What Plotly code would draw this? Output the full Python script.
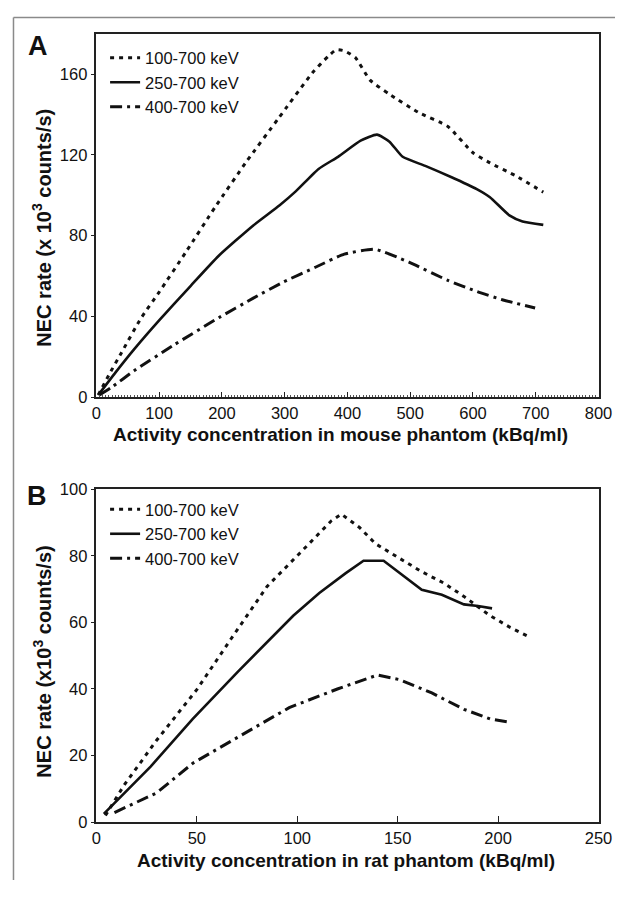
import plotly.graph_objects as go

# window size and default page margin of the HTML body
WIN_W, WIN_H = 637, 897
OFF = 8
W, H = WIN_W - 2 * OFF, WIN_H - 2 * OFF

# ---------------- Data ----------------
series_names = ["100-700 keV", "250-700 keV", "400-700 keV"]

# Panel A (mouse phantom)
a_x_100 = [3, 20, 40, 71, 100, 143, 189, 240, 290, 344, 370, 382, 395, 413, 436, 467, 513, 560, 600, 627, 668, 712]
a_y_100 = [1, 11, 22, 39, 52, 72, 94, 117, 138, 160.5, 169, 172, 171.5, 168, 157, 150, 141, 134, 121, 116, 109.6, 101.5]

a_x_250 = [3, 30, 61, 100, 150, 195, 250, 292, 318, 354, 385, 421, 447, 467, 488, 524, 565, 606, 627, 658, 679, 712]
a_y_250 = [1, 12, 24, 38, 55, 70, 85, 95, 102, 113, 119, 127, 130, 126.5, 119, 114.5, 109, 103, 99, 90, 87, 85.3]

a_x_400 = [5, 25, 60, 122, 195, 250, 298, 349, 395, 444, 498, 560, 607, 648, 699]
a_y_400 = [1, 5, 13, 25.5, 39.3, 49, 57, 64.3, 70.8, 73.2, 66.8, 57.8, 52.2, 48.1, 44.1]

# Panel B (rat phantom)
b_x_100 = [4.5, 14, 30, 50, 67, 85, 101, 117, 122, 131, 139, 148.5, 162, 173, 183, 196, 206, 216]
b_y_100 = [2, 11.3, 24.6, 39.8, 55, 70.8, 80.6, 90.5, 92.5, 88.5, 83.6, 80.1, 75.2, 71.8, 67.8, 62, 58.5, 55.5]

b_x_250 = [3.7, 27, 48, 70.5, 98, 111, 124, 133, 143, 162, 172, 183, 190, 197]
b_y_250 = [2.5, 16.7, 31, 45.2, 62, 68.8, 74.7, 78.5, 78.5, 69.8, 68.3, 65.4, 64.9, 64.2]

b_x_400 = [9, 30, 48, 70.5, 96, 120, 140, 151, 167, 183, 196, 206]
b_y_400 = [2.9, 8.8, 17.7, 25.6, 34.4, 40, 44.2, 42.8, 38.8, 33.9, 31, 30]

a_xticks = [0, 100, 200, 300, 400, 500, 600, 700, 800]
a_yticks = [0, 40, 80, 120, 160]
b_xticks = [0, 50, 100, 150, 200, 250]
b_yticks = [0, 20, 40, 60, 80, 100]

# ---------------- Styles ----------------
FONT = "Arial, Liberation Sans, Helvetica, sans-serif"
dashes = ["4px,5px", "solid", "12px,5px,3px,5px"]
widths = [3, 2.6, 3]


def px_x(p):
    return (p - OFF) / W


def px_y(p):
    return 1 - (p - OFF) / H


fig = go.Figure()

panelA = [(a_x_100, a_y_100), (a_x_250, a_y_250), (a_x_400, a_y_400)]
panelB = [(b_x_100, b_y_100), (b_x_250, b_y_250), (b_x_400, b_y_400)]

for i, (xs, ys) in enumerate(panelA):
    fig.add_trace(go.Scatter(
        x=xs, y=ys, mode="lines", name=series_names[i],
        line=dict(color="#111111", width=widths[i], dash=dashes[i], shape="spline", smoothing=0.5),
        xaxis="x", yaxis="y", legend="legend",
    ))
for i, (xs, ys) in enumerate(panelB):
    fig.add_trace(go.Scatter(
        x=xs, y=ys, mode="lines", name=series_names[i],
        line=dict(color="#111111", width=widths[i], dash=dashes[i]),
        xaxis="x2", yaxis="y2", legend="legend2",
    ))

axis_common = dict(
    showline=True, linecolor="#222222", linewidth=1.5, mirror=True,
    showgrid=False, zeroline=False,
    tickfont=dict(family=FONT, size=16.5, color="#111111"),
    tickcolor="#222222", tickwidth=1,
)

legend_common = dict(xanchor="left", yanchor="top", bgcolor="rgba(0,0,0,0)",
                     itemwidth=30, font=dict(family=FONT, size=16.5, color="#111111"))

fig.update_layout(
    width=W, height=H,
    margin=dict(l=0, r=0, t=0, b=0),
    paper_bgcolor="white", plot_bgcolor="white",
    font=dict(family=FONT, color="#111111"),
    xaxis=dict(domain=[px_x(94), px_x(612)], anchor="y", range=[0, 800],
               tickvals=a_xticks, ticks="inside", ticklen=5,
               minor=dict(ticks="inside", dtick=5, ticklen=2, tickwidth=0.8, tickcolor="#555555"),
               **axis_common),
    yaxis=dict(domain=[px_y(396), px_y(25)], anchor="x", range=[0, 180],
               tickvals=a_yticks, ticks="outside", ticklen=4, **axis_common),
    xaxis2=dict(domain=[px_x(94), px_x(612)], anchor="y2", range=[0, 250],
                tickvals=b_xticks, ticks="inside", ticklen=6, **axis_common),
    yaxis2=dict(domain=[px_y(830), px_y(490)], anchor="x2", range=[0, 100],
                tickvals=b_yticks, ticks="outside", ticklen=4, **axis_common),
    legend=dict(x=px_x(103), y=px_y(32), **legend_common),
    legend2=dict(x=px_x(103), y=px_y(493), **legend_common),
    showlegend=True,
)


def ann(text, x, y, size, angle=0):
    return dict(text=text, x=px_x(x), y=px_y(y), xref="paper", yref="paper",
                xanchor="center", yanchor="middle", showarrow=False, textangle=angle,
                font=dict(family=FONT, size=size, color="#111111"))


fig.update_layout(annotations=[
    ann("<b>A</b>", 34, 38, 27),
    ann("<b>B</b>", 33, 497, 27),
    ann("<b>NEC rate (x 10<sup>3</sup> counts/s)</b>", 38, 223, 20, -90),
    ann("<b>NEC rate (x10<sup>3</sup> counts/s)</b>", 38, 666, 20, -90),
    ann("<b>Activity concentration in mouse phantom (kBq/ml)</b>", 346, 434, 19),
    ann("<b>Activity concentration in rat phantom (kBq/ml)</b>", 352, 869, 19),
])

# outer gray frame (top and left edges visible)
fig.update_layout(shapes=[
    dict(type="line", xref="paper", yref="paper", x0=px_x(8.5), x1=1.0, y0=px_y(8.5), y1=px_y(8.5),
         line=dict(color="#8a8a8a", width=1.5)),
    dict(type="line", xref="paper", yref="paper", x0=px_x(8.5), x1=px_x(8.5), y0=px_y(8.5), y1=0.0,
         line=dict(color="#8a8a8a", width=1.5)),
])

fig.write_html("out.html")
